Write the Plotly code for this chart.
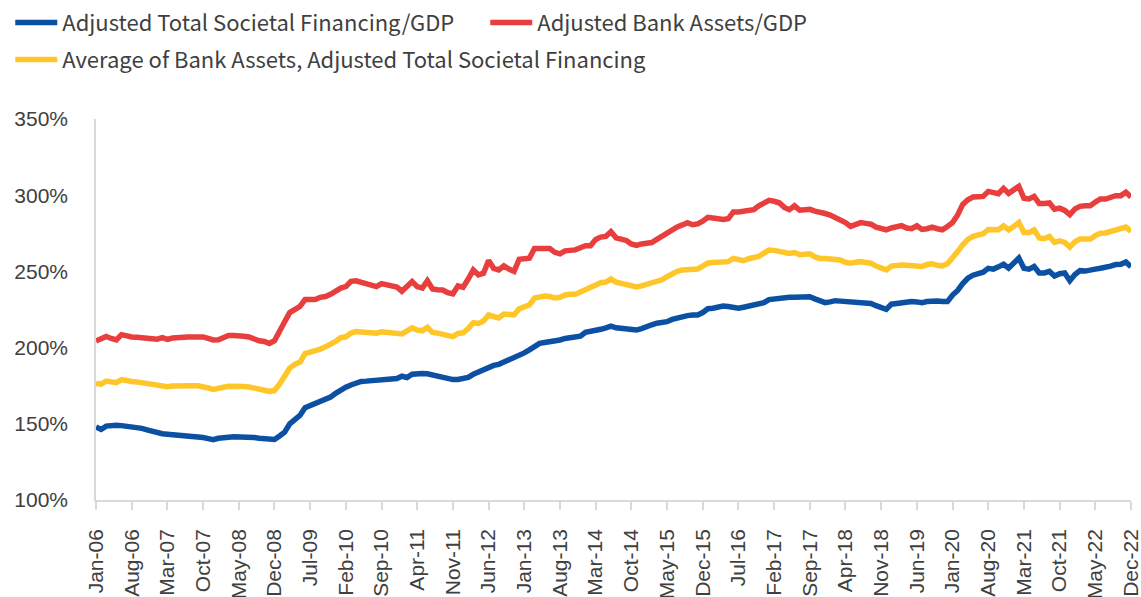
import pandas as pd
import plotly.graph_objects as go

MONTHS = pd.date_range("2006-01-01", periods=204, freq="MS").strftime("%b-%y").tolist()

TICK_LABELS = ["Jan-06", "Aug-06", "Mar-07", "Oct-07", "May-08", "Dec-08", "Jul-09", "Feb-10",
               "Sep-10", "Apr-11", "Nov-11", "Jun-12", "Jan-13", "Aug-13", "Mar-14", "Oct-14",
               "May-15", "Dec-15", "Jul-16", "Feb-17", "Sep-17", "Apr-18", "Nov-18", "Jun-19",
               "Jan-20", "Aug-20", "Mar-21", "Oct-21", "May-22", "Dec-22"]

Y_TICKS = [100, 150, 200, 250, 300, 350]
Y_TICK_LABELS = ["100%", "150%", "200%", "250%", "300%", "350%"]

TSF_GDP = [
    147.9, 146.3, 148.5, 149.0, 149.0, 148.8, 148.5, 148.0, 147.9, 147.0, 146.0, 145.0,
    144.0, 143.5, 143.2, 143.0, 142.8, 142.3, 142.0, 141.8, 141.5, 141.0, 140.3, 139.6,
    140.5, 141.3, 141.2, 141.5, 141.6, 141.5, 141.3, 141.0, 140.5, 140.0, 139.6, 139.7,
    142.0, 144.5, 150.0, 152.5, 155.5, 160.5, 162.0, 163.0, 164.5, 166.0, 167.5, 170.0,
    172.5, 174.0, 175.5, 177.0, 177.8, 178.0, 178.2, 178.5, 178.6, 179.0, 179.3, 179.7,
    181.2, 180.4, 182.5, 183.0, 183.0, 182.8, 182.0, 181.0, 180.0, 179.2, 179.0, 179.1,
    179.5, 180.5, 182.5, 184.0, 185.0, 187.0, 188.3, 189.0, 190.5, 192.0, 193.5, 194.5,
    196.5, 198.5, 200.5, 202.8, 203.4, 203.8, 203.8, 205.0, 206.0, 206.4, 206.7, 207.5,
    210.0, 210.4, 211.0, 212.0, 213.0, 214.1, 213.0, 212.4, 212.0, 212.0, 211.5, 212.5,
    214.0, 215.0, 216.0, 216.5, 217.0, 218.5, 219.5, 220.0, 221.0, 221.4, 221.4, 223.0,
    225.5, 225.8, 226.5, 227.3, 227.0, 226.5, 225.8, 226.5, 227.3, 227.6, 228.0, 229.5,
    231.5, 232.0, 232.4, 232.6, 233.0, 233.0, 233.0, 233.2, 233.4, 232.0, 231.0, 229.5,
    230.0, 230.8, 230.5, 230.2, 230.0, 229.5, 229.1, 229.0, 229.0, 227.5, 226.0, 225.1,
    228.5, 229.0, 229.5, 229.8, 230.2, 230.0, 229.5, 230.2, 230.8, 230.5, 230.2, 230.2,
    234.5, 237.5, 242.0, 245.5, 247.5, 248.5, 249.5, 252.0, 251.5, 253.0, 254.7, 252.1,
    255.5, 258.7, 252.0, 251.5, 253.2, 249.0, 249.0, 250.0, 247.0, 248.5, 249.0, 243.9,
    248.0, 250.5, 250.2, 250.5, 251.5, 252.1, 252.5, 253.5, 254.5, 254.7, 256.2, 253.0,
]

BANK_GDP = [
    204.3, 205.5, 207.3, 206.0, 205.0, 208.5, 207.5, 207.0, 206.8, 206.5, 206.0, 205.8,
    205.5, 206.5, 205.4, 206.3, 206.5, 207.5, 207.0, 207.0, 207.0, 207.0, 206.0, 205.0,
    205.2, 207.0, 208.0, 208.0, 208.0, 207.5, 207.0, 205.5, 204.5, 204.0, 202.7, 204.5,
    210.0, 217.0, 223.0, 225.0, 227.0, 231.5, 231.5, 231.5, 233.0, 233.5, 235.0, 237.5,
    239.0, 240.0, 243.5, 243.8, 243.0, 242.0, 241.0, 240.0, 242.0, 241.5, 240.5, 239.8,
    237.0, 240.5, 243.3, 240.0, 239.0, 243.9, 238.5, 238.0, 237.8, 236.0, 235.3, 240.5,
    239.6, 245.0, 251.0, 247.7, 248.8, 257.1, 252.0, 251.0, 253.6, 251.5, 250.0, 258.0,
    258.3, 258.7, 265.0, 265.0, 264.1, 265.0, 262.5, 261.5, 263.5, 263.7, 264.1, 265.5,
    266.8, 266.8, 271.0, 272.5, 273.0, 276.0, 272.0, 271.2, 270.3, 268.0, 267.0, 268.0,
    268.6, 268.9, 271.0, 273.0, 276.0, 278.0, 279.2, 280.5, 282.0, 280.6, 281.2, 283.0,
    285.5, 285.0, 284.3, 284.0, 284.5, 289.0, 289.0, 289.5, 290.2, 290.5, 293.0, 294.5,
    296.6, 296.0, 295.0, 292.0, 290.5, 293.0, 290.2, 290.5, 290.7, 289.5, 288.3, 288.0,
    287.0, 285.5, 284.3, 282.0, 279.5, 281.0, 282.0, 281.5, 281.0, 279.0, 278.0, 277.3,
    278.5, 279.5, 280.0, 278.5, 278.0, 279.9, 277.5, 278.0, 279.0, 278.0, 277.3, 279.5,
    282.0, 287.0, 294.0, 297.0, 298.8, 299.0, 299.2, 302.5, 301.5, 301.0, 304.5, 301.2,
    303.5, 305.8, 298.0, 297.5, 299.2, 294.5, 294.5, 294.9, 290.8, 291.5, 290.0, 287.2,
    291.0, 292.7, 293.0, 293.1, 295.5, 297.5, 297.5, 298.5, 299.7, 299.7, 301.9, 298.8,
]

AVERAGE = [
    176.5, 176.0, 178.0, 177.5, 177.0, 179.0, 178.0, 177.8, 177.5, 177.0, 176.0, 175.3,
    174.7, 175.0, 174.3, 174.8, 175.0, 175.5, 175.2, 175.0, 175.0, 174.5, 173.5, 172.5,
    172.8, 174.0, 174.6, 174.7, 175.0, 174.5, 174.2, 173.2, 172.5, 172.0, 171.3, 171.8,
    176.0, 180.5, 186.5, 189.0, 190.5, 196.0, 197.0, 197.3, 199.0, 200.5, 202.0, 204.0,
    206.5, 207.1, 209.5, 210.5, 210.3, 210.0, 209.3, 209.5, 210.4, 210.2, 210.0, 209.8,
    209.0, 211.0, 213.0, 211.5, 211.0, 213.3, 210.0, 209.5, 209.0, 208.0, 207.2, 209.3,
    209.7, 212.5, 216.3, 215.8, 217.5, 221.4, 220.0, 219.5, 222.0, 222.2, 221.5, 225.5,
    227.0, 228.0, 232.5, 233.4, 233.8, 233.5, 232.6, 233.0, 234.5, 235.0, 235.0, 236.5,
    238.0, 239.5, 241.5, 242.6, 243.0, 245.0, 243.0, 242.2, 241.8, 240.5, 239.8, 240.5,
    241.5, 242.3, 243.2, 244.5, 246.5, 248.5, 250.0, 251.0, 251.4, 251.4, 251.6, 253.5,
    255.5, 255.8, 255.8, 256.0, 256.4, 258.5, 257.5, 257.0, 258.3, 258.8, 259.9, 262.0,
    264.0, 263.8, 263.0, 262.0, 261.8, 262.4, 261.0, 261.2, 261.5, 259.5, 258.5, 258.5,
    258.3, 258.0, 257.5, 256.0, 255.4, 256.0, 256.4, 255.8, 255.4, 253.5, 252.0, 251.0,
    253.5, 254.0, 254.2, 254.0, 253.6, 253.5, 253.3, 254.5, 255.0, 254.0, 253.6, 255.0,
    258.5, 263.0, 267.5, 271.0, 273.0, 273.8, 274.7, 277.5, 277.3, 277.3, 279.8, 277.3,
    279.5, 282.1, 275.5, 275.5, 277.2, 272.0, 271.5, 272.9, 269.0, 270.0, 269.0, 265.9,
    269.5, 271.2, 271.2, 271.3, 273.5, 275.1, 275.2, 276.2, 277.7, 277.8, 279.1, 276.2,
]

BLUE = "#0C50A3"
RED = "#E83E3E"
YELLOW = "#FFC629"
AXIS = "#D9D9D9"
TEXT = "#404040"
LEGEND_FONT = dict(family="Noto Sans CJK JP, Roboto, Liberation Sans", size=22, color=TEXT)

fig = go.Figure()
fig.add_trace(go.Scatter(x=MONTHS, y=TSF_GDP, mode="lines", name="Adjusted Total Societal Financing/GDP",
                         line=dict(color=BLUE, width=5.5), legend="legend"))
fig.add_trace(go.Scatter(x=MONTHS, y=BANK_GDP, mode="lines", name="Adjusted Bank Assets/GDP",
                         line=dict(color=RED, width=5.5), legend="legend"))
fig.add_trace(go.Scatter(x=MONTHS, y=AVERAGE, mode="lines",
                         name="Average of Bank Assets, Adjusted Total Societal Financing",
                         line=dict(color=YELLOW, width=5.5), legend="legend2"))

fig.update_layout(
    width=1141, height=597,
    margin=dict(l=96, r=10, t=119, b=97),
    paper_bgcolor="white", plot_bgcolor="white",
    font=dict(family="Liberation Sans, Arial", color=TEXT, size=21),
    legend=dict(orientation="h", xref="container", yref="container", x=0.009, y=0.997,
                xanchor="left", yanchor="top", font=LEGEND_FONT, itemwidth=42,
                entrywidth=418, entrywidthmode="pixels",
                bgcolor="rgba(0,0,0,0)", traceorder="normal"),
    legend2=dict(orientation="h", xref="container", yref="container", x=0.009, y=0.935,
                 xanchor="left", yanchor="top", font=LEGEND_FONT, itemwidth=42,
                 bgcolor="rgba(0,0,0,0)"),
)
fig.update_xaxes(type="category", range=[0, len(MONTHS) - 1], tickmode="array", tickvals=TICK_LABELS,
                 ticktext=TICK_LABELS, tickangle=-90, ticks="outside", ticklen=8, tickcolor=AXIS,
                 tickwidth=1.5, showline=True, linecolor=AXIS, linewidth=1.5, showgrid=False,
                 tickfont=dict(size=21, color=TEXT), ticklabelstandoff=11, automargin=False)
fig.update_yaxes(range=[100, 350], tickmode="array", tickvals=Y_TICKS, ticktext=Y_TICK_LABELS,
                 showline=True, linecolor=AXIS, linewidth=1.5, showgrid=False, zeroline=False, ticks="",
                 tickfont=dict(size=21, color=TEXT), ticklabelstandoff=22, automargin=False)

fig.write_html("out.html", config={"displayModeBar": False},
               post_script="document.body.style.margin = '0px';")
